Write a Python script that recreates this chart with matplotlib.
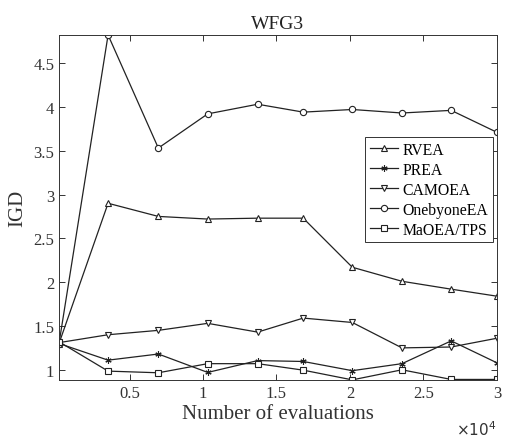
import matplotlib.pyplot as plt
from matplotlib.ticker import FuncFormatter

plt.rcParams['font.family'] = ['Liberation Serif', 'DejaVu Serif']

# evaluations
evals = [200, 3540, 6960, 10320, 13720, 16820, 20160, 23540, 26890, 30000]

rvea = [1.30, 2.90, 2.75, 2.72, 2.73, 2.73, 2.17, 2.01, 1.92, 1.84]
prea = [1.30, 1.11, 1.18, 0.97, 1.105, 1.095, 0.99, 1.07, 1.33, 1.08]
camoea = [1.31, 1.40, 1.45, 1.53, 1.43, 1.59, 1.54, 1.25, 1.26, 1.36]
onebyone = [1.30, 4.82, 3.53, 3.92, 4.03, 3.94, 3.97, 3.93, 3.96, 3.71]
maoea = [1.32, 0.985, 0.966, 1.07, 1.07, 0.996, 0.885, 1.00, 0.89, 0.89]

series = [
    ('RVEA', rvea, '^'),
    ('PREA', prea, (6, 2, 0)),
    ('CAMOEA', camoea, 'v'),
    ('OnebyoneEA', onebyone, 'o'),
    ('MaOEA/TPS', maoea, 's'),
]

fig = plt.figure(figsize=(5.06, 4.39), dpi=100)
ax = fig.add_axes([0.1166, 0.132, 0.8654, 0.786])

x = [e / 1e4 for e in evals]
for name, vals, m in series:
    ax.plot(x, vals, color='#222222', lw=0.9, marker=m,
            markersize=4.5 if m != 's' else 4,
            markerfacecolor='white', markeredgecolor='#222222',
            markeredgewidth=0.8, label=name)

ax.set_xlim(0.02, 3.0)
ax.set_ylim(0.883, 4.82)
ax.set_xticks([0.5, 1, 1.5, 2, 2.5, 3])
ax.set_yticks([1, 1.5, 2, 2.5, 3, 3.5, 4, 4.5])
ax.xaxis.set_major_formatter(FuncFormatter(lambda v, p: '%g' % v))
ax.yaxis.set_major_formatter(FuncFormatter(lambda v, p: '%g' % v))
ax.tick_params(direction='in', top=True, right=True, labelsize=12, length=4,
               width=0.7, colors='#333333', labelcolor='#333333')
for s in ax.spines.values():
    s.set_linewidth(0.7)
    s.set_color('#333333')

ax.set_title('WFG3', fontsize=14, color='#222222', pad=5)
ax.set_xlabel('Number of evaluations', fontsize=15, color='#333333', labelpad=2)
ax.set_ylabel('IGD', fontsize=15, color='#333333', labelpad=4)
ax.text(1.0, -0.115, r'$\times10^4$', transform=ax.transAxes, ha='right', va='top',
        fontsize=11, color='#333333')

leg = ax.legend(loc='upper right', bbox_to_anchor=(0.991, 0.704), borderaxespad=0,
                fancybox=False, framealpha=1, edgecolor='#333333', fontsize=11.3,
                handlelength=1.8, handletextpad=0.3, labelspacing=0.25,
                borderpad=0.3)
leg.get_frame().set_linewidth(0.7)

fig.savefig('out.png', dpi=100)
